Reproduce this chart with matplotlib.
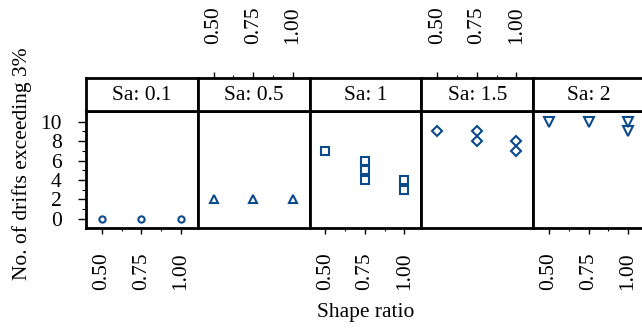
import matplotlib
matplotlib.use("Agg")
import matplotlib.pyplot as plt
from matplotlib.ticker import FixedLocator

plt.rcParams['font.family'] = ['Liberation Serif', 'DejaVu Serif']

# data
sa_labels = ['Sa: 0.1', 'Sa: 0.5', 'Sa: 1', 'Sa: 1.5', 'Sa: 2']
sa01_x = [0.5, 0.75, 1.0]
sa01_y = [0, 0, 0]
sa05_x = [0.5, 0.75, 1.0]
sa05_y = [2, 2, 2]
sa1_x = [0.5, 0.75, 0.75, 0.75, 1.0, 1.0]
sa1_y = [7, 6, 5, 4, 4, 3]
sa15_x = [0.5, 0.75, 0.75, 1.0, 1.0]
sa15_y = [9, 9, 8, 8, 7]
sa2_x = [0.5, 0.75, 1.0, 1.0]
sa2_y = [10, 10, 10, 9]

xs = [sa01_x, sa05_x, sa1_x, sa15_x, sa2_x]
ys = [sa01_y, sa05_y, sa1_y, sa15_y, sa2_y]
markers = ['o', '^', 's', 'D', 'v']
msizes = [4.5, 5.5, 5.5, 5.5, 6.5]

x_ticks = [0.5, 0.75, 1.0]
x_tick_labels = ['0.50', '0.75', '1.00']
x_minor = [0.625, 0.875]
y_ticks = [0, 2, 4, 6, 8, 10]
y_minor = [1, 3, 5, 7, 9]

col = '#0b4a8b'
W, H = 642, 329
fig = plt.figure(figsize=(W / 100, H / 100), dpi=100)

pw = 111.8
p_top, p_bot = 111, 228
s_top = 78
lw = 2.0
fs = 15.5

for i in range(5):
    left = 86 + pw * i
    ax = fig.add_axes([left / W, (H - p_bot) / H, pw / W, (p_bot - p_top) / H])
    st = fig.add_axes([left / W, (H - p_top) / H, pw / W, (p_top - s_top) / H])

    ax.plot(xs[i], ys[i], linestyle='none', marker=markers[i], markersize=msizes[i],
            markerfacecolor='none', markeredgecolor=col, markeredgewidth=1.5)
    ax.set_xlim(0.4, 1.107)
    ax.set_ylim(-0.95, 11.1)
    st.set_xlim(0.4, 1.107)
    st.set_ylim(0, 1)
    st.text(0.5, 0.47, sa_labels[i], transform=st.transAxes, ha='center', va='center',
            fontsize=fs)
    st.set_yticks([])

    for a in (ax, st):
        for s in a.spines.values():
            s.set_linewidth(lw)

    ax.xaxis.set_major_locator(FixedLocator(x_ticks))
    ax.xaxis.set_minor_locator(FixedLocator(x_minor))
    st.xaxis.set_major_locator(FixedLocator(x_ticks))
    st.xaxis.set_minor_locator(FixedLocator(x_minor))

    if i % 2 == 0:
        ax.set_xticklabels(x_tick_labels, rotation=90, fontsize=fs)
        ax.tick_params(axis='x', which='major', direction='out', length=4.5, width=1,
                       pad=13, bottom=True, top=False)
        ax.tick_params(axis='x', which='minor', direction='out', length=2.5, width=0.8,
                       bottom=True, top=False)
        st.tick_params(axis='x', which='both', bottom=False, top=False,
                       labelbottom=False, labeltop=False)
    else:
        ax.tick_params(axis='x', which='both', bottom=False, top=False,
                       labelbottom=False)
        st.xaxis.tick_top()
        st.set_xticklabels(x_tick_labels, rotation=90, fontsize=fs)
        st.tick_params(axis='x', which='major', direction='out', length=4.5, width=1,
                       pad=20, top=True, bottom=False, labeltop=True, labelbottom=False)
        st.tick_params(axis='x', which='minor', direction='out', length=2.5, width=0.8,
                       top=True, bottom=False)

    if i == 0:
        ax.yaxis.set_major_locator(FixedLocator(y_ticks))
        ax.yaxis.set_minor_locator(FixedLocator(y_minor))
        ax.tick_params(axis='y', which='major', direction='out', length=5.5, width=1,
                       pad=12, labelsize=fs)
        ax.tick_params(axis='y', which='minor', direction='out', length=3, width=0.8)
    else:
        ax.set_yticks([])

fig.text(22 / W, 1 - 164 / H, 'No. of drifts exceeding 3%', rotation=90,
         ha='center', va='center', fontsize=fs)
fig.text(366 / W, 1 - 313 / H, 'Shape ratio', ha='center', va='center', fontsize=fs)

fig.savefig('out.png', dpi=100)
